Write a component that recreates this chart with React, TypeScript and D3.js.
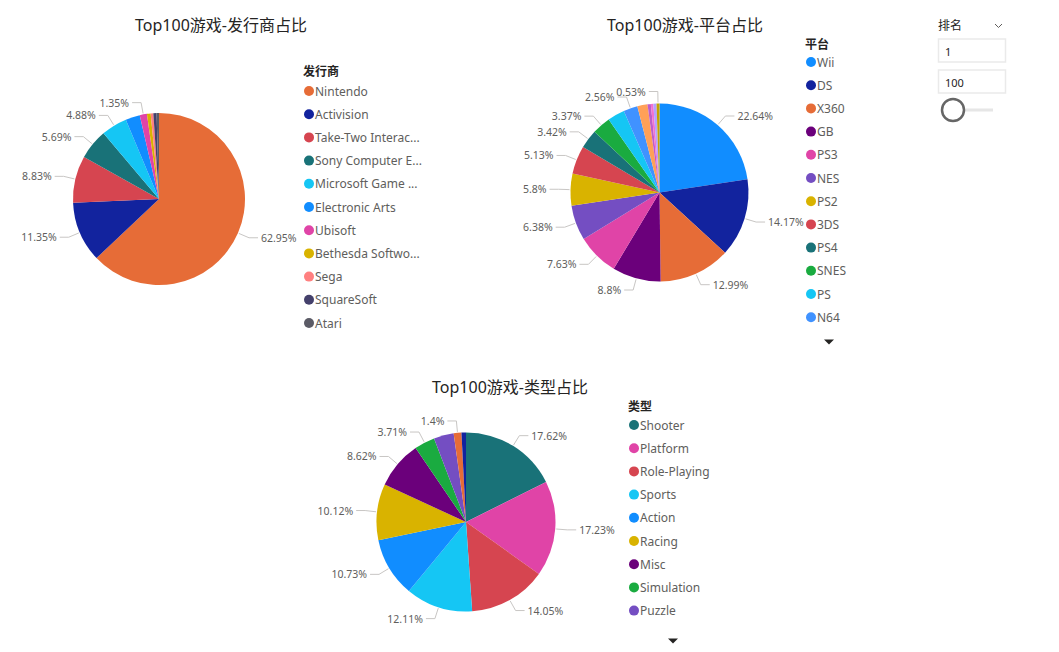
import React, { useEffect, useRef } from "react";
import * as d3 from "d3";

const FONT = "'Segoe UI', 'Noto Sans', 'Noto Sans CJK SC', sans-serif";

// 发行商
const publishers = ["Nintendo", "Activision", "Take-Two Interactive", "Sony Computer Entertainment", "Microsoft Game Studios", "Electronic Arts", "Ubisoft", "Bethesda Softworks", "Sega", "SquareSoft", "Atari"];
const publisherShare = [62.95, 11.35, 8.83, 5.69, 4.88, 2.7, 1.35, 0.7, 0.5, 0.6, 0.45];
const publisherColors = ["#E66C37", "#12239E", "#D64550", "#197278", "#15C6F4", "#118DFF", "#E044A7", "#D9B300", "#FF8080", "#44406B", "#5B5B66"];
const publisherNoLabel = ["Electronic Arts", "Bethesda Softworks", "Sega", "SquareSoft", "Atari"];

// 平台
const platforms = ["Wii", "DS", "X360", "GB", "PS3", "NES", "PS2", "3DS", "PS4", "SNES", "PS", "N64", "GBA", "PC", "XB", "2600", "GC"];
const platformShare = [22.64, 14.17, 12.99, 8.8, 7.63, 6.38, 5.8, 5.13, 3.42, 3.37, 3.1, 2.56, 1.85, 0.6, 0.45, 0.58, 0.53];
const platformColors = ["#118DFF", "#12239E", "#E66C37", "#6B007B", "#E044A7", "#744EC2", "#D9B300", "#D64550", "#197278", "#1AAB40", "#15C6F4", "#4092FF", "#FFA058", "#BE5DC9", "#F472D0", "#B5A1FF", "#C4A200"];
const platformNoLabel = ["PS", "GBA", "PC", "XB", "2600"];

// 类型
const genres = ["Shooter", "Platform", "Role-Playing", "Sports", "Action", "Racing", "Misc", "Simulation", "Puzzle", "Fighting", "Adventure"];
const genreShare = [17.62, 17.23, 14.05, 12.11, 10.73, 10.12, 8.62, 3.71, 3.6, 1.4, 0.81];
const genreColors = ["#197278", "#E044A7", "#D64550", "#15C6F4", "#118DFF", "#D9B300", "#6B007B", "#1AAB40", "#744EC2", "#E66C37", "#12239E"];
const genreNoLabel = ["Puzzle", "Adventure"];

type PieCfg = {
  title: string; titleX: number; titleY: number;
  legendTitle: string; legendX: number; legendY: number; itemY: number; legendShown: number;
  arrow: [number, number] | null;
  cx: number; cy: number; r: number;
  names: string[]; values: number[]; colors: string[]; noLabel: string[];
};

const charts: PieCfg[] = [
  { title: "Top100游戏-发行商占比", titleX: 221, titleY: 25, legendTitle: "发行商", legendX: 303, legendY: 71, itemY: 91, legendShown: 11, arrow: null,
    cx: 159, cy: 199, r: 86, names: publishers, values: publisherShare, colors: publisherColors, noLabel: publisherNoLabel },
  { title: "Top100游戏-平台占比", titleX: 685, titleY: 25, legendTitle: "平台", legendX: 805, legendY: 44, itemY: 62, legendShown: 12, arrow: [829, 342],
    cx: 659.5, cy: 192.5, r: 89, names: platforms, values: platformShare, colors: platformColors, noLabel: platformNoLabel },
  { title: "Top100游戏-类型占比", titleX: 510, titleY: 387, legendTitle: "类型", legendX: 628, legendY: 406, itemY: 425, legendShown: 9, arrow: [673, 641],
    cx: 466, cy: 522, r: 89.5, names: genres, values: genreShare, colors: genreColors, noLabel: genreNoLabel },
];

export default function App() {
  const ref = useRef<SVGSVGElement | null>(null);

  useEffect(() => {
    const svg = d3.select(ref.current);
    svg.selectAll("*").remove();
    svg.append("rect").attr("width", 1059).attr("height", 652).attr("fill", "#fff");

    charts.forEach(c => {
      const g = svg.append("g");
      g.append("text").attr("x", c.titleX).attr("y", c.titleY).attr("text-anchor", "middle")
        .attr("dominant-baseline", "central").attr("font-size", 16)
        .attr("fill", "#252423").text(c.title);

      const items = c.names.map((n, i) => ({ name: n, value: c.values[i], color: c.colors[i] }));
      const pie = d3.pie<any>().sort(null).value(d => d.value);
      const arcs = pie(items);
      const arc = d3.arc<any>().innerRadius(0).outerRadius(c.r);
      const pg = g.append("g").attr("transform", `translate(${c.cx},${c.cy})`);
      pg.selectAll("path").data(arcs).enter().append("path")
        .attr("d", arc as any).attr("fill", d => d.data.color);

      // data labels with leader lines
      arcs.filter(a => !c.noLabel.includes(a.data.name)).forEach(a => {
        const m = (a.startAngle + a.endAngle) / 2;
        const s = Math.sin(m), co = Math.cos(m);
        const side = s >= 0 ? 1 : -1;
        const x0 = c.cx + (c.r + 1) * s, y0 = c.cy - (c.r + 1) * co;
        const x1 = c.cx + (c.r + 12) * s, y1 = c.cy - (c.r + 12) * co;
        const x2 = x1 + side * 9;
        g.append("polyline").attr("points", `${x0},${y0} ${x1},${y1} ${x2},${y1}`)
          .attr("fill", "none").attr("stroke", "#C8C6C4").attr("stroke-width", 1);
        g.append("text").attr("x", x2 + side * 3).attr("y", y1)
          .attr("text-anchor", side > 0 ? "start" : "end").attr("dominant-baseline", "central")
          .attr("font-size", 10.5).attr("fill", "#605E5C").text(`${+a.data.value.toFixed(2)}%`);
      });

      // legend
      g.append("text").attr("x", c.legendX).attr("y", c.legendY).attr("dominant-baseline", "central")
        .attr("font-size", 12).attr("font-weight", "bold").attr("fill", "#252423").text(c.legendTitle);
      items.slice(0, c.legendShown).forEach((d, i) => {
        const y = c.itemY + i * 23.2;
        g.append("circle").attr("cx", c.legendX + 6).attr("cy", y).attr("r", 5).attr("fill", d.color);
        const t = g.append("text").attr("x", c.legendX + 12).attr("y", y).attr("dominant-baseline", "central")
          .attr("font-size", 12).attr("fill", "#605E5C").text(d.name);
        const node = t.node() as SVGTextElement;
        if (node.getComputedTextLength() > 106) {
          let s = d.name;
          while (s.length > 1) {
            s = s.slice(0, -1);
            t.text(s + "...");
            if (node.getComputedTextLength() <= 107) break;
          }
        }
      });
      if (c.arrow) {
        const [ax, ay] = c.arrow;
        g.append("path").attr("d", `M${ax - 5},${ay - 2.5}L${ax + 5},${ay - 2.5}L${ax},${ay + 2.5}Z`).attr("fill", "#252423");
      }
    });

    // 排名 slicer
    const sl = svg.append("g");
    sl.append("text").attr("x", 938).attr("y", 25).attr("dominant-baseline", "central")
      .attr("font-size", 12).attr("fill", "#252423").text("排名");
    sl.append("path").attr("d", "M995,24L998.5,27.5L1002,24").attr("fill", "none").attr("stroke", "#605E5C").attr("stroke-width", 1);
    [["1", 39], ["100", 70]].forEach(([v, y]) => {
      sl.append("rect").attr("x", 938.5).attr("y", +y).attr("width", 67).attr("height", 23)
        .attr("fill", "#fff").attr("stroke", "#EAEAEA").attr("stroke-width", 1.5);
      sl.append("text").attr("x", 945).attr("y", +y + 12).attr("dominant-baseline", "central")
        .attr("font-size", 11).attr("fill", "#252423").text(v as string);
    });
    sl.append("line").attr("x1", 953).attr("x2", 993).attr("y1", 110).attr("y2", 110)
      .attr("stroke", "#E6E6E6").attr("stroke-width", 3);
    sl.append("circle").attr("cx", 953).attr("cy", 110).attr("r", 11)
      .attr("fill", "#fff").attr("stroke", "#666666").attr("stroke-width", 2.5);
  }, []);

  return (
    <svg ref={ref} width={1059} height={652}
      style={{ position: "absolute", left: 0, top: 0, fontFamily: FONT }} />
  );
}
